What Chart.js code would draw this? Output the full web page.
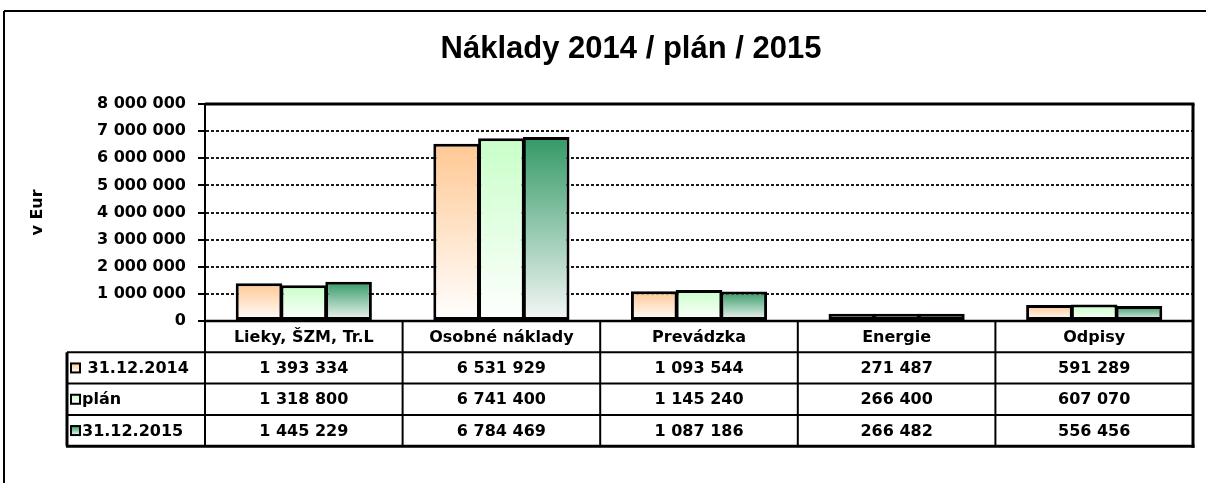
<!DOCTYPE html>
<html>
<head>
<meta charset="utf-8">
<script src="https://cdn.jsdelivr.net/npm/chart.js@4"></script>
<style>
  body { margin: 0; background: #fff; }
  canvas { display: block; }
</style>
</head>
<body>
<canvas id="naklady" width="1206" height="483"></canvas>
<script>
const kategorie = ['Lieky, ŠZM, Tr.L', 'Osobné náklady', 'Prevádzka', 'Energie', 'Odpisy']
const serie = [' 31.12.2014', 'plán', '31.12.2015']
const hodnoty2014 = [1393334, 6531929, 1093544, 271487, 591289]
const hodnotyPlan = [1318800, 6741400, 1145240, 266400, 607070]
const hodnoty2015 = [1445229, 6784469, 1087186, 266482, 556456]
const yMax = 8000000
const yKrok = 1000000

const nadpis = 'Náklady 2014 / plán / 2015'
const osY = 'v Eur'
const farby = [['#FFC893', '#FFFFFF'], ['#C8FFC8', '#FFFFFF'], ['#339966', '#F6F8F7']]

const font = 'bold 16px "DejaVu Sans"'

const formatuj = v => String(v).replace(/\B(?=(\d{3})+(?!\d))/g, ' ')

// gradient per bar, top colour fading to bottom colour
const vypln = (hore, dole) => c => {
    const chart = c.chart
    if (!chart.chartArea || c.type !== 'data') return hore
    const y = chart.scales.y
    const g = chart.ctx.createLinearGradient(0, y.getPixelForValue(c.raw), 0, y.getPixelForValue(0))
    g.addColorStop(0, hore)
    g.addColorStop(1, dole)
    return g
}

const ciara = (ctx, x1, y1, x2, y2, w) => {
    ctx.lineWidth = w
    ctx.beginPath()
    ctx.moveTo(x1, y1)
    ctx.lineTo(x2, y2)
    ctx.stroke()
}

const tabulka = {
    id: 'tabulka',
    afterDraw(chart) {
        const {ctx, chartArea: a, scales: {x}} = chart
        const colW = (a.right - a.left) / kategorie.length
        const rowH = 31.3
        const lavo = 67
        const top = a.bottom
        const spodok = top + rowH * 4
        const data = [hodnoty2014, hodnotyPlan, hodnoty2015]

        ctx.save()
        ctx.strokeStyle = '#000'
        ctx.fillStyle = '#000'

        // outer frame of the whole chart
        ciara(ctx, 4, 11, 1206, 11, 2)
        ciara(ctx, 4, 11, 4, 483, 2)

        // title
        ctx.font = 'bold 31px "Liberation Sans"'
        ctx.textAlign = 'center'
        ctx.textBaseline = 'middle'
        ctx.fillText(nadpis, 631, 49)

        // plot frame top + right
        ciara(ctx, a.left, a.top, a.right + 1.5, a.top, 3)
        ciara(ctx, a.right, a.top, a.right, spodok + 1.5, 3)

        // table lines
        ciara(ctx, a.left - 1, top, a.right, top, 2.5)
        for (let r = 1; r < 4; r++) ciara(ctx, lavo, top + rowH * r, a.right, top + rowH * r, 2)
        ciara(ctx, lavo - 1, spodok, a.right + 1.5, spodok, 3)
        ciara(ctx, lavo, top + rowH, lavo, spodok, 3)
        ciara(ctx, a.left, top, a.left, spodok, 2)
        for (let i = 1; i < kategorie.length; i++) {
            const xx = a.left + colW * i
            ciara(ctx, xx, top, xx, spodok, 2)
        }

        ctx.font = font
        kategorie.forEach((k, i) => {
            const cx = x.getPixelForValue(i)
            ctx.fillText(k, cx, top + rowH / 2 + 1)
            data.forEach((d, s) => ctx.fillText(formatuj(d[i]), cx, top + rowH * (s + 1.5) + 1))
        })

        // legend keys and series labels
        serie.forEach((nazov, s) => {
            const ym = top + rowH * (s + 1.5)
            const g = ctx.createLinearGradient(0, ym - 4.5, 0, ym + 4.5)
            g.addColorStop(0, farby[s][0])
            g.addColorStop(1, farby[s][1])
            ctx.fillStyle = g
            ctx.fillRect(71, ym - 4.5, 9, 9)
            ctx.lineWidth = 2
            ctx.strokeRect(71, ym - 4.5, 9, 9)
            ctx.fillStyle = '#000'
            ctx.textAlign = 'left'
            ctx.fillText(nazov, 82, ym + 1)
        })
        ctx.restore()
    }
}

const sady = [hodnoty2014, hodnotyPlan, hodnoty2015].map((d, s) => ({
    label: serie[s].trim(),
    data: d,
    backgroundColor: vypln(farby[s][0], farby[s][1]),
    borderColor: '#000',
    borderWidth: 3,
    borderSkipped: false,
    categoryPercentage: 0.68,
    barPercentage: 1.04
}))

new Chart(document.querySelector('#naklady'), {
    type: 'bar',
    data: { labels: kategorie, datasets: sady },
    plugins: [tabulka],
    options: {
        responsive: false,
        animation: false,
        devicePixelRatio: 1,
        layout: { padding: { top: 104, left: 0, right: 13, bottom: 162 } },
        plugins: {
            legend: { display: false },
            title: { display: false },
            tooltip: { enabled: false }
        },
        scales: {
            x: { display: false },
            y: {
                min: 0,
                max: yMax,
                afterFit: s => { s.width = 205 },
                ticks: {
                    stepSize: yKrok,
                    padding: 12,
                    color: '#000',
                    font: { family: 'DejaVu Sans', size: 16, weight: 'bold' },
                    callback: v => formatuj(v)
                },
                grid: {
                    color: '#1a1a1a',
                    lineWidth: 2,
                    tickLength: 7,
                    tickColor: '#000',
                    tickWidth: 2
                },
                border: { color: '#000', width: 2, dash: [3, 2] },
                title: {
                    display: true,
                    text: osY,
                    color: '#000',
                    font: { family: 'DejaVu Sans', size: 16, weight: 'bold' },
                    padding: { top: 28, bottom: 0 }
                }
            }
        }
    }
})
</script>
</body>
</html>
